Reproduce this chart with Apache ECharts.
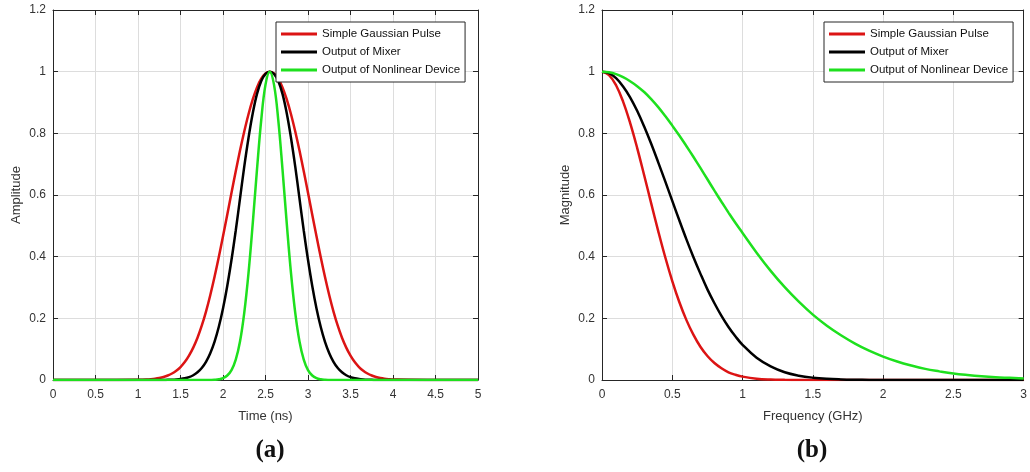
<!DOCTYPE html>
<html>
<head>
<meta charset="utf-8">
<script src="https://cdn.jsdelivr.net/npm/echarts@6/dist/echarts.min.js"></script>
<style>
html,body{margin:0;padding:0;background:#fff;}
#chart{width:1030px;height:472px;}
</style>
</head>
<body>
<div id="chart"></div>
<script>
// ---------- data (a): time domain ----------
const timeNs = [0, 0.5,
  1, 1.05, 1.1, 1.15, 1.2, 1.25, 1.3, 1.35, 1.4, 1.45, 1.5, 1.55, 1.6, 1.65, 1.7, 1.75, 1.8, 1.85, 1.9, 1.95,
  2, 2.05, 2.1, 2.15, 2.2, 2.25, 2.3, 2.35, 2.4, 2.45, 2.5, 2.55,
  2.6, 2.65, 2.7, 2.75, 2.8, 2.85, 2.9, 2.95, 3, 3.05, 3.1, 3.15, 3.2, 3.25, 3.3, 3.35, 3.4, 3.45, 3.5,
  3.55, 3.6, 3.65, 3.7, 3.75, 3.8, 3.85, 3.9, 3.95, 4,
  4.5, 5];
const gaussTime = [0, 0,
  0.0006, 0.0010, 0.0017, 0.0027, 0.0042, 0.0065, 0.0098, 0.0145, 0.021, 0.030, 0.042, 0.058, 0.079, 0.105, 0.137, 0.176,
  0.222, 0.275, 0.334, 0.398, 0.466, 0.536, 0.607, 0.677, 0.744, 0.806, 0.862, 0.91, 0.949, 0.977, 0.994, 1,
  0.994, 0.977, 0.949, 0.91, 0.862, 0.806, 0.744, 0.677, 0.607, 0.536, 0.466, 0.398, 0.334, 0.275, 0.222, 0.176, 0.137,
  0.105, 0.079, 0.058, 0.042, 0.030, 0.021, 0.0145, 0.0098, 0.0065, 0.0042, 0.0027, 0.0017,
  0.0001, 0];
const mixerTime = [0, 0,
  0, 0, 0, 0, 0, 0.0001, 0.0002, 0.0005, 0.0009, 0.0017, 0.0031, 0.0055, 0.0094, 0.0155, 0.025, 0.039,
  0.059, 0.087, 0.124, 0.172, 0.232, 0.305, 0.39, 0.485, 0.588, 0.692, 0.785, 0.865, 0.928, 0.97, 0.993, 1,
  0.993, 0.97, 0.928, 0.865, 0.785, 0.692, 0.588, 0.485, 0.39, 0.305, 0.232, 0.172, 0.124, 0.087, 0.059, 0.039, 0.025,
  0.0155, 0.0094, 0.0055, 0.0031, 0.0017, 0.0009, 0.0005, 0.0002, 0.0001, 0, 0, 0,
  0, 0];
const nonlinTime = [0, 0,
  0, 0, 0, 0, 0, 0, 0, 0, 0, 0, 0, 0, 0, 0, 0, 0,
  0, 0.0003, 0.0008, 0.0022, 0.0059, 0.0145, 0.032, 0.066, 0.125, 0.218, 0.347, 0.508, 0.683, 0.844, 0.958, 1,
  0.958, 0.844, 0.683, 0.508, 0.347, 0.218, 0.125, 0.066, 0.032, 0.0145, 0.0059, 0.0022, 0.0008, 0.0003, 0,
  0, 0, 0, 0, 0, 0, 0, 0, 0, 0, 0, 0, 0, 0,
  0, 0];

// ---------- data (b): frequency domain ----------
const freqGHz = [0, 0.05, 0.1, 0.15, 0.2, 0.25, 0.3, 0.35, 0.4, 0.45, 0.5, 0.55, 0.6, 0.65, 0.7, 0.75, 0.8, 0.85, 0.9, 0.95, 1,
  1.1, 1.2, 1.3, 1.4, 1.5, 1.6, 1.7, 1.8, 1.9, 2, 2.1, 2.2, 2.3, 2.4, 2.5, 2.6, 2.7, 2.8, 2.9, 3];
const gaussFreq = [1, 0.989, 0.956, 0.903, 0.834, 0.753, 0.664, 0.573, 0.483, 0.398, 0.321, 0.253, 0.195, 0.147, 0.108, 0.078, 0.055, 0.038, 0.025, 0.017, 0.011,
  0.0041, 0.0014, 0.0005, 0.0001, 0, 0, 0, 0, 0, 0, 0, 0, 0, 0, 0, 0, 0, 0, 0, 0];
const mixerFreq = [1, 0.995, 0.979, 0.952, 0.917, 0.873, 0.822, 0.766, 0.706, 0.644, 0.581, 0.518, 0.457, 0.399, 0.345, 0.294, 0.249, 0.208, 0.172, 0.141, 0.114,
  0.072, 0.044, 0.025, 0.014, 0.0075, 0.0038, 0.0019, 0.0009, 0.0004, 0.0002, 0, 0, 0, 0, 0, 0, 0, 0, 0, 0];
const nonlinFreq = [1, 0.998, 0.992, 0.982, 0.969, 0.953, 0.934, 0.911, 0.885, 0.856, 0.825, 0.793, 0.759, 0.724, 0.688, 0.651, 0.614, 0.578, 0.543, 0.509, 0.477,
  0.413, 0.354, 0.301, 0.254, 0.212, 0.176, 0.145, 0.118, 0.095, 0.076, 0.060, 0.047, 0.036, 0.028, 0.021, 0.016, 0.012, 0.009, 0.007, 0.005];

const seriesNames = ['Simple Gaussian Pulse', 'Output of Mixer', 'Output of Nonlinear Device'];
const seriesColors = ['#dc1414', '#000000', '#1ee01e'];
const xTitles = ['Time (ns)', 'Frequency (GHz)'];
const yTitles = ['Amplitude', 'Magnitude'];
const captions = ['(a)', '(b)'];

// ---------- chart ----------
const FONT = '"Liberation Sans", Arial, Helvetica, sans-serif';
const AX = '#262626';
const GRIDC = '#dddddd';
const grids = [
  {left: 53, top: 10, width: 425, height: 370},
  {left: 602, top: 10, width: 425, height: 370}
];
function pairs(xs, ys){ return xs.map((x, i) => [x, ys[i]]); }

const xAxes = [], yAxes = [];
[[0, 5], [0, 3]].forEach((r, g) => {
  xAxes.push({
    type: 'value', gridIndex: g, min: r[0], max: r[1], interval: 0.5, position: 'bottom',
    name: xTitles[g], nameLocation: 'middle', nameGap: 30,
    nameTextStyle: {fontFamily: FONT, fontSize: 13, color: '#333'},
    axisLine: {show: true, onZero: false, lineStyle: {color: AX, width: 1}},
    axisTick: {show: true, inside: true, length: 5, lineStyle: {color: AX}},
    axisLabel: {fontFamily: FONT, fontSize: 12, color: '#333', margin: 9},
    splitLine: {show: true, lineStyle: {color: GRIDC, width: 1}}
  });
  xAxes.push({
    type: 'value', gridIndex: g, min: r[0], max: r[1], interval: 0.5, position: 'top',
    axisLine: {show: true, onZero: false, lineStyle: {color: AX, width: 1}},
    axisTick: {show: true, inside: true, length: 5, lineStyle: {color: AX}},
    axisLabel: {show: false}, splitLine: {show: false}
  });
  yAxes.push({
    type: 'value', gridIndex: g, min: 0, max: 1.2, interval: 0.2, position: 'left',
    name: yTitles[g], nameLocation: 'middle', nameGap: 30, nameRotate: 90,
    nameTextStyle: {fontFamily: FONT, fontSize: 13, color: '#333'},
    axisLine: {show: true, onZero: false, lineStyle: {color: AX, width: 1}},
    axisTick: {show: true, inside: true, length: 5, lineStyle: {color: AX}},
    axisLabel: {fontFamily: FONT, fontSize: 12, color: '#333', margin: 7},
    splitLine: {show: true, lineStyle: {color: GRIDC, width: 1}}
  });
  yAxes.push({
    type: 'value', gridIndex: g, min: 0, max: 1.2, interval: 0.2, position: 'right',
    axisLine: {show: true, onZero: false, lineStyle: {color: AX, width: 1}},
    axisTick: {show: true, inside: true, length: 5, lineStyle: {color: AX}},
    axisLabel: {show: false}, splitLine: {show: false}
  });
});

const timeSets = [gaussTime, mixerTime, nonlinTime];
const freqSets = [gaussFreq, mixerFreq, nonlinFreq];
const series = [];
seriesNames.forEach((n, i) => {
  series.push({
    name: n, type: 'line', xAxisIndex: 0, yAxisIndex: 0, data: pairs(timeNs, timeSets[i]),
    smooth: 0.4, symbol: 'none', lineStyle: {color: seriesColors[i], width: 2.5},
    itemStyle: {color: seriesColors[i]}, z: 2 + i, silent: true, animation: false
  });
});
seriesNames.forEach((n, i) => {
  series.push({
    name: n, type: 'line', xAxisIndex: 2, yAxisIndex: 2, data: pairs(freqGHz, freqSets[i]),
    smooth: 0.4, symbol: 'none', lineStyle: {color: seriesColors[i], width: 2.5},
    itemStyle: {color: seriesColors[i]}, z: 2 + i, silent: true, animation: false
  });
});

function legendAt(left){
  return {
    show: true, orient: 'vertical', left: left, top: 22,
    data: seriesNames.map(n => ({name: n})),
    icon: 'rect', itemWidth: 36, itemHeight: 3, itemGap: 4,
    padding: [5, 5, 5, 5],
    backgroundColor: '#ffffff', borderColor: AX, borderWidth: 1, borderRadius: 0,
    textStyle: {fontFamily: FONT, fontSize: 11.5, color: '#111', lineHeight: 14},
    selectedMode: false
  };
}

const option = {
  backgroundColor: '#ffffff',
  animation: false,
  grid: grids,
  xAxis: xAxes,
  yAxis: yAxes,
  legend: [legendAt(276), legendAt(824)],
  series: series,
  graphic: [
    {type: 'text', position: [270, 451], style: {text: captions[0], font: 'bold 25px "Liberation Serif", "Times New Roman", serif', fill: '#111', textAlign: 'center', textVerticalAlign: 'middle'}},
    {type: 'text', position: [812, 451], style: {text: captions[1], font: 'bold 25px "Liberation Serif", "Times New Roman", serif', fill: '#111', textAlign: 'center', textVerticalAlign: 'middle'}}
  ]
};
const chart = echarts.init(document.getElementById('chart'), null, {renderer: 'canvas'});
chart.setOption(option);
</script>
</body>
</html>
